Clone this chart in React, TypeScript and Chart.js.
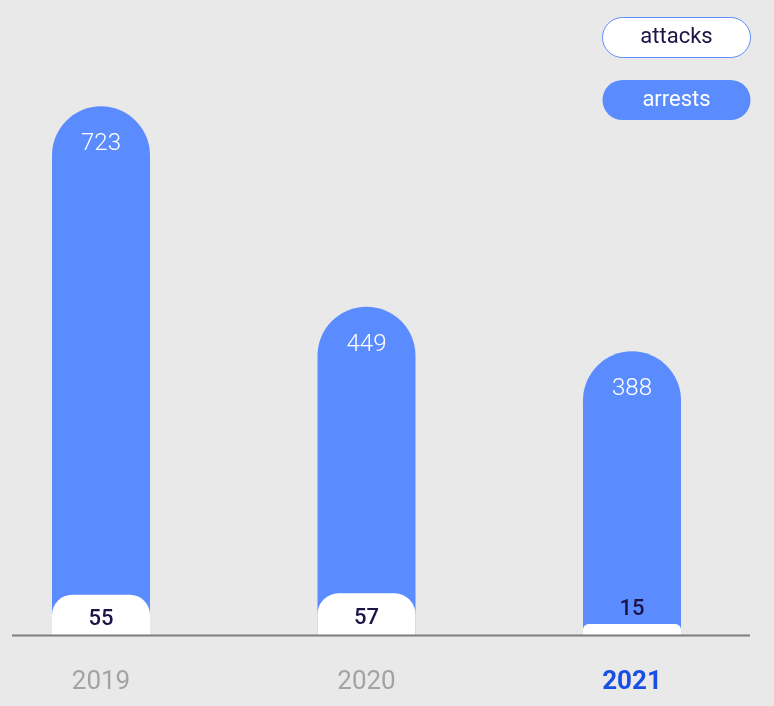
import React, { useEffect, useRef } from "react";
import { Chart, registerables } from "chart.js";

Chart.register(...registerables);

const years = ["2019", "2020", "2021"];
const attacks = [55, 57, 15];
const arrests = [723, 449, 388];
const seriesNames = ["attacks", "arrests"];
const highlightYear = "2021";

const BG = "#e9e9e9";
const BLUE = "#5b8cff";
const NAVY = "#1b1446";
const FONT = "Roboto, 'Noto Sans', sans-serif";

const bgPlugin = {
  id: "bg",
  beforeDraw(chart: any) {
    const { ctx, width, height } = chart;
    ctx.save();
    ctx.fillStyle = BG;
    ctx.fillRect(0, 0, width, height);
    ctx.restore();
  },
};

const axisLinePlugin = {
  id: "axisLine",
  afterDatasetsDraw(chart: any) {
    const { ctx } = chart;
    const y = chart.scales.y.getPixelForValue(0);
    ctx.save();
    ctx.strokeStyle = "#7d7d7d";
    ctx.lineWidth = 2;
    ctx.beginPath();
    ctx.moveTo(12, y + 0.5);
    ctx.lineTo(750, y + 0.5);
    ctx.stroke();
    ctx.restore();
  },
};

const valueLabelPlugin = {
  id: "valueLabels",
  afterDatasetsDraw(chart: any) {
    const { ctx } = chart;
    ctx.save();
    ctx.textAlign = "center";
    ctx.textBaseline = "middle";
    // arrests (dataset 1)
    const m1 = chart.getDatasetMeta(1);
    ctx.fillStyle = "#ffffff";
    ctx.font = `300 24px ${FONT}`;
    m1.data.forEach((bar: any, i: number) => {
      ctx.fillText(String(arrests[i]), bar.x, bar.y + 38);
    });
    // attacks (dataset 0)
    const m0 = chart.getDatasetMeta(0);
    ctx.fillStyle = NAVY;
    ctx.font = `500 22px ${FONT}`;
    m0.data.forEach((bar: any, i: number) => {
      const h = bar.base - bar.y;
      const y = h > 25 ? bar.y + 25 : bar.y - 15;
      ctx.fillText(String(attacks[i]), bar.x, y);
    });
    ctx.restore();
  },
};

function roundRect(ctx: any, x: number, y: number, w: number, h: number, r: number) {
  ctx.beginPath();
  ctx.moveTo(x + r, y);
  ctx.lineTo(x + w - r, y);
  ctx.arc(x + w - r, y + r, r, -Math.PI / 2, Math.PI / 2);
  ctx.lineTo(x + r, y + h);
  ctx.arc(x + r, y + r, r, Math.PI / 2, (3 * Math.PI) / 2);
  ctx.closePath();
}

const pillLegendPlugin = {
  id: "pillLegend",
  afterDraw(chart: any) {
    const { ctx } = chart;
    ctx.save();
    const x = 602.5;
    const w = 148;
    const h = 40;
    const tops = [17.5, 80];
    chart.data.datasets.forEach((ds: any, i: number) => {
      const y = tops[i];
      roundRect(ctx, x, y, w, h, h / 2);
      if (i === 0) {
        ctx.fillStyle = "#ffffff";
        ctx.fill();
        ctx.strokeStyle = BLUE;
        ctx.lineWidth = 1;
        ctx.stroke();
      } else {
        ctx.fillStyle = BLUE;
        ctx.fill();
      }
      ctx.fillStyle = i === 0 ? NAVY : "#ffffff";
      ctx.font = `400 22px ${FONT}`;
      ctx.textAlign = "center";
      ctx.textBaseline = "middle";
      ctx.fillText(ds.label, x + w / 2, y + h / 2);
    });
    ctx.restore();
  },
};

function BarChart() {
  const ref = useRef<HTMLCanvasElement>(null);
  useEffect(() => {
    if (!ref.current) return;
    const chart = new Chart(ref.current, {
      type: "bar",
      data: {
        labels: years,
        datasets: [
          {
            label: seriesNames[0],
            data: attacks,
            backgroundColor: "#ffffff",
            borderRadius: 49,
            barThickness: 98,
            inflateAmount: 0,
            clip: false as any,
          },
          {
            label: seriesNames[1],
            data: arrests,
            backgroundColor: BLUE,
            borderRadius: 49,
            barThickness: 98,
            inflateAmount: 0,
            clip: false as any,
          },
        ],
      },
      options: {
        responsive: false,
        animation: false,
        layout: { padding: { left: 101, right: 142, top: 50, bottom: 0 } },
        plugins: { legend: { display: false }, tooltip: { enabled: false } },
        scales: {
          x: {
            type: "category",
            offset: false,
            stacked: true,
            grid: { display: false },
            border: { display: false },
            afterFit(scale: any) {
              scale.height = 71;
            },
            ticks: {
              padding: 24,
              maxRotation: 0,
              autoSkip: false,
              color: (c: any) => (years[c.index] === highlightYear ? "#1a4fe6" : "#a3a3a3"),
              font: (c: any) => ({
                family: FONT,
                size: 26,
                weight: years[c.index] === highlightYear ? "bold" : "normal",
              }),
            },
          },
          y: {
            display: false,
            stacked: false,
            min: 0,
            max: 800,
          },
        },
      },
      plugins: [bgPlugin, axisLinePlugin, valueLabelPlugin, pillLegendPlugin],
    } as any);
    return () => chart.destroy();
  }, []);
  return <canvas ref={ref} width={774} height={706} style={{ display: "block" }} />;
}

export default function App() {
  return (
    <div style={{ position: "absolute", left: 0, top: 0, width: 774, height: 706, background: BG }}>
      <BarChart />
    </div>
  );
}
